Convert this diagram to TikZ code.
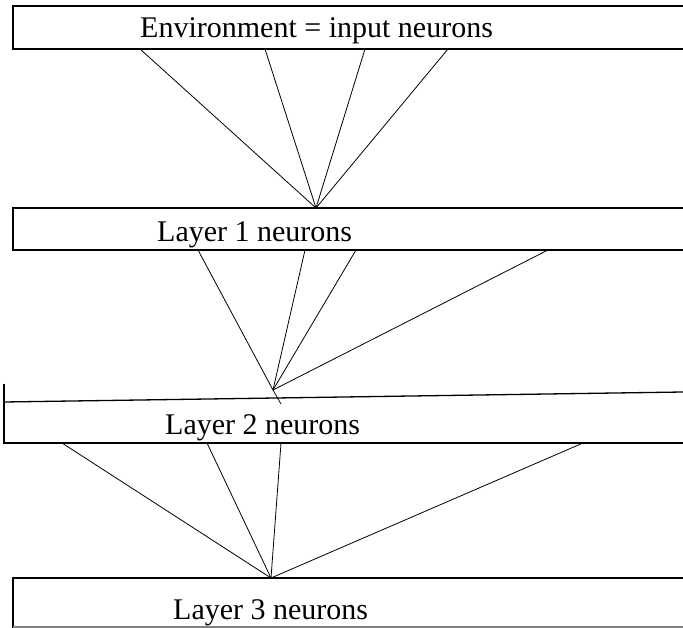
\documentclass[tikz,border=0pt]{standalone}
\usepackage{fontspec}
\setmainfont{Liberation Serif}
\begin{document}
\begin{tikzpicture}[x=1pt,y=-1pt,
  boxline/.style={line width=1.3pt},
  link/.style={line width=0.8pt},
  lbl/.style={inner sep=0pt,anchor=base west,font=\fontsize{30}{36}\selectfont}]
\useasboundingbox (0,0) rectangle (683,628);
% boxes
\draw[boxline] (683,6) -- (13,6) -- (13,49) -- (683,49);
\draw[boxline] (683,208) -- (13,208) -- (13,250) -- (683,250);
\draw[boxline] (4,402) -- (683,392);
\draw[boxline] (4,384) -- (4,443) -- (683,443);
\draw[boxline] (683,578) -- (13,578) -- (13,628);
\draw[boxline,gray] (13,627) -- (683,627);
% labels
\node[lbl] (env) at (140,38) {Environment = input neurons};
\node[lbl] (l1) at (157,242) {Layer 1 neurons};
\node[lbl] (l2) at (165,434) {Layer 2 neurons};
\node[lbl] (l3) at (173,619) {Layer 3 neurons};
% coordinates
\coordinate (p1) at (316,208);
\coordinate (a1) at (140,49);
\coordinate (a2) at (265,49);
\coordinate (a3) at (365,49);
\coordinate (a4) at (448,49);
\coordinate (p2) at (273,390);
\coordinate (b1) at (198,250);
\coordinate (b2) at (305,250);
\coordinate (b3) at (356,250);
\coordinate (b4) at (548,250);
\coordinate (bt) at (281,404);
\coordinate (p3) at (271,578);
\coordinate (c1) at (62,443);
\coordinate (c2) at (207,443);
\coordinate (c3) at (281,443);
\coordinate (c4) at (583,443);
% connectors
\foreach \s in {a1,a2,a3,a4} \draw[link] (\s) -- (p1);
\foreach \s in {b1,b2,b3,b4} \draw[link] (\s) -- (p2);
\draw[link] (p2) -- (bt);
\foreach \s in {c1,c2,c3,c4} \draw[link] (\s) -- (p3);
\end{tikzpicture}
\end{document}
